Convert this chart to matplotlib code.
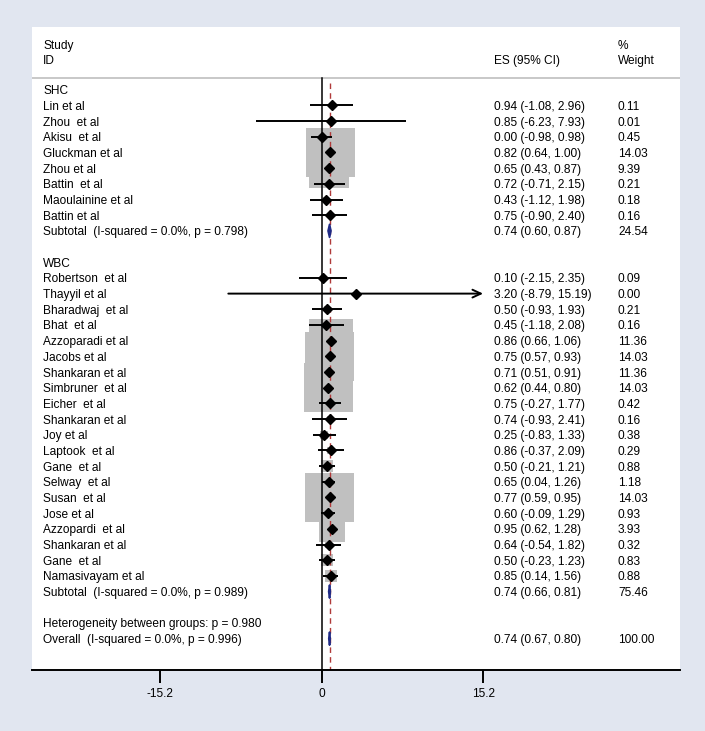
import matplotlib
matplotlib.use("Agg")
import matplotlib.pyplot as plt
from matplotlib.patches import Rectangle, Polygon

plt.rcParams["font.family"] = ["Liberation Sans", "DejaVu Sans"]

# ---- data ----
shc_names = ["Lin et al", "Zhou  et al", "Akisu  et al", "Gluckman et al", "Zhou et al",
             "Battin  et al", "Maoulainine et al", "Battin et al"]
shc_es = [0.94, 0.85, 0.00, 0.82, 0.65, 0.72, 0.43, 0.75]
shc_lo = [-1.08, -6.23, -0.98, 0.64, 0.43, -0.71, -1.12, -0.90]
shc_hi = [2.96, 7.93, 0.98, 1.00, 0.87, 2.15, 1.98, 2.40]
shc_wt = [0.11, 0.01, 0.45, 14.03, 9.39, 0.21, 0.18, 0.16]
shc_sub = (0.74, 0.60, 0.87, 24.54, "Subtotal  (I-squared = 0.0%, p = 0.798)")

wbc_names = ["Robertson  et al", "Thayyil et al", "Bharadwaj  et al", "Bhat  et al",
             "Azzoparadi et al", "Jacobs et al", "Shankaran et al", "Simbruner  et al",
             "Eicher  et al", "Shankaran et al", "Joy et al", "Laptook  et al", "Gane  et al",
             "Selway  et al", "Susan  et al", "Jose et al", "Azzopardi  et al",
             "Shankaran et al", "Gane  et al", "Namasivayam et al"]
wbc_es = [0.10, 3.20, 0.50, 0.45, 0.86, 0.75, 0.71, 0.62, 0.75, 0.74, 0.25, 0.86, 0.50,
          0.65, 0.77, 0.60, 0.95, 0.64, 0.50, 0.85]
wbc_lo = [-2.15, -8.79, -0.93, -1.18, 0.66, 0.57, 0.51, 0.44, -0.27, -0.93, -0.83, -0.37,
          -0.21, 0.04, 0.59, -0.09, 0.62, -0.54, -0.23, 0.14]
wbc_hi = [2.35, 15.19, 1.93, 2.08, 1.06, 0.93, 0.91, 0.80, 1.77, 2.41, 1.33, 2.09, 1.21,
          1.26, 0.95, 1.29, 1.28, 1.82, 1.23, 1.56]
wbc_wt = [0.09, 0.00, 0.21, 0.16, 11.36, 14.03, 11.36, 14.03, 0.42, 0.16, 0.38, 0.29, 0.88,
          1.18, 14.03, 0.93, 3.93, 0.32, 0.83, 0.88]
wbc_sub = (0.74, 0.66, 0.81, 75.46, "Subtotal  (I-squared = 0.0%, p = 0.989)")

overall = (0.74, 0.67, 0.80, 100.00, "Overall  (I-squared = 0.0%, p = 0.996)")
het_text = "Heterogeneity between groups: p = 0.980"
tick_vals = [-15.2, 0, 15.2]

# ---- layout ----
W, H = 705, 731
BG = "#e1e6f0"
AX_L, AX_R, AX_T, AX_B = 32, 680, 27, 670   # pixel box of the white panel
X0_PX, PX_PER_UNIT = 321.7, 10.625
XMIN = (AX_L - X0_PX) / PX_PER_UNIT
XMAX = (AX_R - X0_PX) / PX_PER_UNIT
YTOP, YBOT = -4.0, 37.0
PX_PER_ROW = (AX_B - AX_T) / (YBOT - YTOP)
BOX_K = 13.1   # box side in px per sqrt(weight)
CLIP = 15.0
FS = 8.6
VA = "center_baseline"

fig = plt.figure(figsize=(W / 100, H / 100), dpi=100, facecolor=BG)
ax = fig.add_axes([AX_L / W, 1 - AX_B / H, (AX_R - AX_L) / W, (AX_B - AX_T) / H])
ax.set_xlim(XMIN, XMAX)
ax.set_ylim(YBOT, YTOP)
ax.set_facecolor("white")
for s in ["top", "left", "right"]:
    ax.spines[s].set_visible(False)
ax.spines["bottom"].set_linewidth(1.4)
ax.set_yticks([])
ax.set_xticks(tick_vals)
ax.set_xticklabels([f"{v:g}" for v in tick_vals], fontsize=FS)
ax.tick_params(axis="x", length=9, width=1.4, pad=4)

xs_name, xs_es, xs_wt = (43 - AX_L) / (AX_R - AX_L), (494 - AX_L) / (AX_R - AX_L), (618 - AX_L) / (AX_R - AX_L)
tr = ax.get_yaxis_transform()  # x in axes fraction, y in data


def put_row(r, name, es=None, lo=None, hi=None, wt=None):
    ax.text(xs_name, r, name, transform=tr, fontsize=FS, va=VA, ha="left")
    if es is not None:
        ax.text(xs_es, r, f"{es:.2f} ({lo:.2f}, {hi:.2f})", transform=tr, fontsize=FS,
                va=VA, ha="left")
        ax.text(xs_wt, r, f"{wt:.2f}", transform=tr, fontsize=FS, va=VA, ha="left")


# header
ax.text(xs_name, -2.9, "Study", transform=tr, fontsize=FS, va=VA)
ax.text(xs_name, -1.9, "ID", transform=tr, fontsize=FS, va=VA)
ax.text(xs_es, -1.9, "ES (95% CI)", transform=tr, fontsize=FS, va=VA)
ax.text(xs_wt, -2.9, "%", transform=tr, fontsize=FS, va=VA)
ax.text(xs_wt, -1.9, "Weight", transform=tr, fontsize=FS, va=VA)
ax.axhline(-0.72, color="#c8c8c8", lw=1.4)

# reference lines
ax.plot([0, 0], [-0.72, YBOT], color="black", lw=1.1, zorder=2)
ax.plot([overall[0], overall[0]], [-0.4, YBOT], color="#b03a3a", lw=1.0,
        dashes=(4, 3), zorder=2)


def draw_study(r, es, lo, hi, wt):
    side = BOX_K * wt ** 0.5
    if side > 0:
        ax.add_patch(Rectangle((es - side / 2 / PX_PER_UNIT, r - side / 2 / PX_PER_ROW),
                               side / PX_PER_UNIT, side / PX_PER_ROW,
                               facecolor="#c0c0c0", edgecolor="none", zorder=1))
    if hi > CLIP:
        ax.annotate("", xy=(hi, r), xytext=(lo, r), zorder=3,
                    arrowprops=dict(arrowstyle="->,head_length=0.6,head_width=0.28",
                                    lw=1.4, color="black", shrinkA=0, shrinkB=0))
    else:
        ax.plot([lo, hi], [r, r], color="black", lw=1.4, zorder=3, solid_capstyle="butt")
    ax.plot(es, r, marker="D", ms=5.0, color="black", zorder=4)


def draw_diamond(r, es, lo, hi):
    h = 6.5 / PX_PER_ROW
    ax.add_patch(Polygon([(lo, r), (es, r - h), (hi, r), (es, r + h)], closed=True,
                         facecolor="#1f2a85", edgecolor="#1f2a85", lw=1.3,
                         joinstyle="round", zorder=4))


row = 0
for label, names, es_l, lo_l, hi_l, wt_l, sub in [
        ("SHC", shc_names, shc_es, shc_lo, shc_hi, shc_wt, shc_sub),
        ("WBC", wbc_names, wbc_es, wbc_lo, wbc_hi, wbc_wt, wbc_sub)]:
    put_row(row, label)
    row += 1
    for n, e, lo, hi, w in zip(names, es_l, lo_l, hi_l, wt_l):
        draw_study(row, e, lo, hi, w)
        put_row(row, n, e, lo, hi, w)
        row += 1
    draw_diamond(row, sub[0], sub[1], sub[2])
    put_row(row, sub[4], sub[0], sub[1], sub[2], sub[3])
    row += 2

put_row(row, het_text)
row += 1
draw_diamond(row, overall[0], overall[1], overall[2])
put_row(row, overall[4], overall[0], overall[1], overall[2], overall[3])

fig.savefig("out.png", dpi=100, facecolor=BG)
